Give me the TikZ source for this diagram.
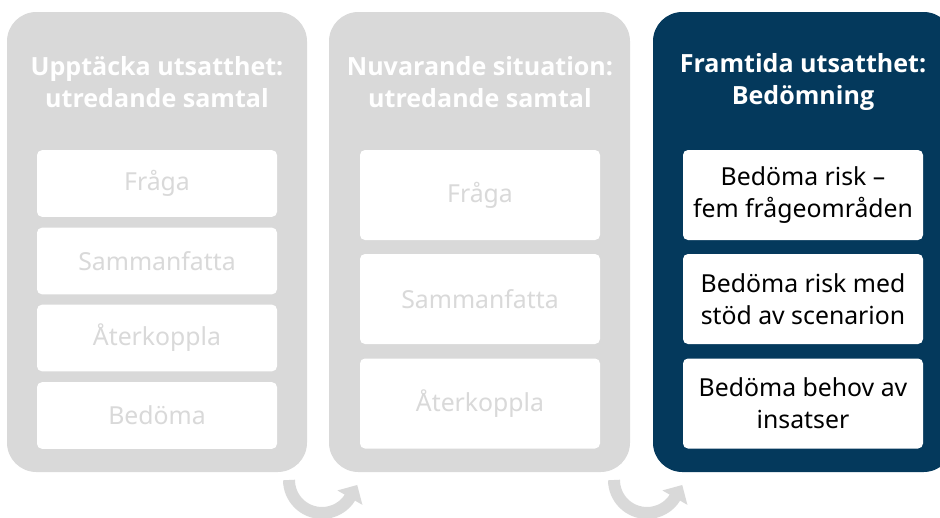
\documentclass[tikz,border=0pt]{standalone}
\usepackage{fontspec}
\setmainfont{Noto Sans}
\newfontfamily\titlefont{Open Sans}
\usetikzlibrary{arrows.meta}
\definecolor{panelgray}{RGB}{217,217,217}
\definecolor{navy}{RGB}{4,57,92}
\tikzset{
  panel/.style={fill=panelgray, rounded corners=22pt},
  title/.style={align=center, text=white, font=\titlefont\bfseries\fontsize{18.8}{23.5}\selectfont},
  stepbox/.style={fill=white, rounded corners=3.75pt, minimum width=180pt, align=center,
    font=\fontsize{18.6}{24}\selectfont},
  faded/.style={stepbox, text=panelgray, minimum height=50pt},
  tall/.style={stepbox, minimum height=67.5pt},
  loop arrow/.style={draw=panelgray, line width=9pt, shorten >=-10pt,
    -{Triangle[width=21pt,length=11pt]}}
}
\begin{document}
\begin{tikzpicture}[x=0.75pt, y=-0.75pt]
\useasboundingbox (0,0) rectangle (940,518);
% columns
\fill[panel] (7,12) rectangle (307,472);
\fill[panel] (329,12) rectangle (630,472);
\fill[panel, fill=navy] (653,12) rectangle (953,472);

% titles
\node[title] (t1) at (157,82) {Upptäcka utsatthet:\\utredande samtal};
\node[title] (t2) at (480,82) {Nuvarande situation:\\utredande samtal};
\node[title] (t3) at (803,82) {Framtida utsatthet:\\Bedömning};

% first column
\node[faded] (a1) at (157,183.5) {Fråga};
\node[faded] (a2) at (157,261) {Sammanfatta};
\node[faded] (a3) at (157,338) {Återkoppla};
\node[faded] (a4) at (157,415.5) {Bedöma};

% second column
\node[tall, text=panelgray] (b1) at (480,195) {Fråga};
\node[tall, text=panelgray] (b2) at (480,299) {Sammanfatta};
\node[tall, text=panelgray] (b3) at (480,403.5) {Återkoppla};

% third column
\node[tall] (c1) at (803,195) {Bedöma risk –\\fem frågeområden};
\node[tall] (c2) at (803,299) {Bedöma risk med\\stöd av scenarion};
\node[tall] (c3) at (803,403.5) {Bedöma behov av\\insatser};

% arrows between columns
\coordinate (s1) at (289,480);
\coordinate (s2) at (614,480);
\draw[loop arrow] (s1) arc[start angle=180, end angle=30, radius=33];
\draw[loop arrow] (s2) arc[start angle=180, end angle=30, radius=33];
\end{tikzpicture}
\end{document}
